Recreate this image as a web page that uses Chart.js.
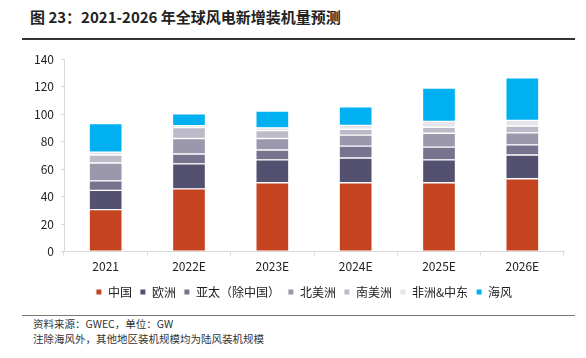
<!DOCTYPE html>
<html>
<head>
<meta charset="utf-8">
<script src="https://cdn.jsdelivr.net/npm/chart.js@4.4.1/dist/chart.umd.min.js"></script>
<style>
  html, body { margin: 0; padding: 0; background: #fff; }
  body { width: 586px; height: 358px; position: relative; overflow: hidden;
         font-family: "Noto Sans CJK SC", "Noto Sans", sans-serif; color: #222; }
  #title { position: absolute; left: 30px; top: 6px; font-size: 15px; font-weight: bold; white-space: nowrap; }
  #title-line { position: absolute; left: 22px; top: 38px; width: 553px; height: 1.5px; background: #333; }
  #chart-box { position: absolute; left: 0; top: 45px; width: 586px; height: 265px; }
  #foot-line { position: absolute; left: 22px; top: 315px; width: 553px; height: 1px; background: #777; }
  .foot { position: absolute; left: 33px; font-size: 10.5px; color: #333; white-space: nowrap; }
</style>
</head>
<body>
<div id="title">图 23：2021-2026 年全球风电新增装机量预测</div>
<div id="title-line"></div>
<div id="chart-box"><canvas id="chart"></canvas></div>
<div id="foot-line"></div>
<div class="foot" style="top:316px">资料来源：GWEC，单位：GW</div>
<div class="foot" style="top:331px">注除海风外，其他地区装机规模均为陆风装机规模</div>
<script>
  const years = ["2021", "2022E", "2023E", "2024E", "2025E", "2026E"];
  const yTicks = [0, 20, 40, 60, 80, 100, 120, 140];

  // 单位：GW
  const china = [30.6, 45.7, 50.1, 50.1, 50.1, 53.0];
  const europe = [13.9, 18.1, 16.6, 18.0, 16.6, 17.3];
  const apac = [7.0, 7.2, 7.2, 8.7, 9.3, 7.4];
  const northAmerica = [13.0, 11.3, 8.4, 7.9, 10.1, 8.7];
  const southAmerica = [5.8, 7.9, 5.7, 4.3, 4.4, 5.0];
  const africaME = [2.1, 1.4, 2.0, 2.9, 4.3, 4.1];
  const offshore = [20.7, 8.7, 12.2, 13.4, 24.2, 31.0];

  const mkSet = (label, data, color) => ({
    label: label,
    data: data,
    backgroundColor: color,
    borderColor: "#ffffff",
    borderWidth: 1,
    borderSkipped: false,
    barThickness: 33,
  });

  const fontFamily = '"Noto Sans CJK SC", "Noto Sans", sans-serif';

  // 图例整体右移一点，对齐原图
  const legendShift = {
    id: "legendShift",
    afterLayout(chart) {
      chart.legend.left += 10;
      chart.legend.right += 10;
    },
  };

  new Chart(document.getElementById("chart"), {
    type: "bar",
    data: {
      labels: years,
      datasets: [
        mkSet("中国", china, "#c5441f"),
        mkSet("欧洲", europe, "#535070"),
        mkSet("亚太（除中国）", apac, "#77738f"),
        mkSet("北美洲", northAmerica, "#9b98ad"),
        mkSet("南美洲", southAmerica, "#bbbac9"),
        mkSet("非洲&中东", africaME, "#e4e4ea"),
        mkSet("海风", offshore, "#00b0f0"),
      ],
    },
    plugins: [legendShift],
    options: {
      responsive: true,
      maintainAspectRatio: false,
      animation: false,
      layout: { padding: { left: 24, right: 22, top: 13, bottom: 2 } },
      plugins: {
        tooltip: { enabled: false },
        legend: {
          position: "bottom",
          labels: {
            boxWidth: 6,
            boxHeight: 6,
            padding: 8,
            color: "#222",
            font: { size: 12, family: fontFamily },
          },
        },
      },
      scales: {
        x: {
          stacked: true,
          grid: { display: true, drawOnChartArea: false, color: "#d9d9d9", tickLength: 4 },
          border: { color: "#d9d9d9", width: 1 },
          ticks: { color: "#222", padding: 4, font: { size: 12, family: fontFamily } },
        },
        y: {
          stacked: true,
          min: 0,
          max: 140,
          afterBuildTicks: (scale) => {
            scale.ticks = yTicks.map((v) => ({ value: v }));
          },
          afterFit: (scale) => {
            scale.width = 40;
          },
          grid: { display: true, drawOnChartArea: false, color: "#d9d9d9", tickLength: 3 },
          border: { color: "#d9d9d9", width: 1 },
          ticks: { color: "#222", padding: 7, font: { size: 12, family: fontFamily } },
        },
      },
    },
  });
</script>
</body>
</html>
